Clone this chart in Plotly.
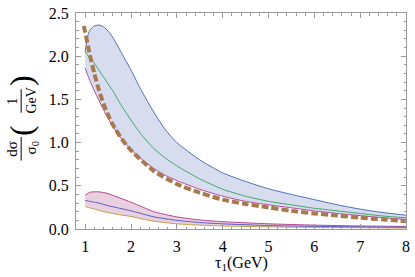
import plotly.graph_objects as go

# ---- data ----
x_band = [1.0, 1.05, 1.1, 1.2, 1.3, 1.4, 1.5, 1.6, 1.7, 1.8, 2.0, 2.2, 2.5, 2.75, 3.0, 3.5,
          4.0, 4.5, 5.0, 5.5, 6.0, 6.5, 7.0, 7.5, 8.0]
band_upper = [2.05, 2.22, 2.30, 2.35, 2.36, 2.34, 2.29, 2.22, 2.13, 2.03, 1.84, 1.63, 1.35,
              1.15, 1.00, 0.80, 0.65, 0.55, 0.465, 0.40, 0.34, 0.28, 0.23, 0.19, 0.16]
band_center = [2.05, 2.01, 1.98, 1.92, 1.84, 1.76, 1.68, 1.60, 1.51, 1.42, 1.26, 1.11, 0.93,
               0.82, 0.73, 0.58, 0.46, 0.38, 0.32, 0.28, 0.24, 0.21, 0.18, 0.15, 0.13]
band_lower = [1.86, 1.79, 1.72, 1.60, 1.49, 1.38, 1.28, 1.19, 1.11, 1.04, 0.92, 0.82, 0.70,
              0.62, 0.56, 0.46, 0.38, 0.32, 0.28, 0.245, 0.21, 0.18, 0.155, 0.13, 0.11]

x_dash = [0.97, 1.0, 1.1, 1.2, 1.3, 1.4, 1.5, 1.6, 1.8, 2.0, 2.5, 3.0, 3.5, 4.0, 4.5,
          5.0, 5.5, 6.0, 6.5, 7.0, 7.5, 8.0]
y_dash = [2.35, 2.28, 2.02, 1.80, 1.61, 1.45, 1.32, 1.21, 1.04, 0.91, 0.67, 0.52, 0.42,
          0.34, 0.29, 0.25, 0.21, 0.18, 0.155, 0.13, 0.11, 0.09]

x_pink = [1.0, 1.1, 1.2, 1.3, 1.5, 1.75, 2.0, 2.25, 2.5, 3.0, 3.5, 4.0, 5.0, 6.0, 7.0, 8.0]
pink_upper = [0.39, 0.425, 0.43, 0.43, 0.41, 0.36, 0.31, 0.255, 0.20, 0.14, 0.105, 0.085,
              0.06, 0.045, 0.035, 0.03]
pink_center = [0.33, 0.32, 0.31, 0.30, 0.27, 0.24, 0.21, 0.175, 0.14, 0.10, 0.075, 0.06,
               0.04, 0.03, 0.025, 0.02]
pink_lower = [0.26, 0.245, 0.23, 0.215, 0.19, 0.165, 0.145, 0.115, 0.09, 0.06, 0.045, 0.035,
              0.025, 0.02, 0.015, 0.012]

x_ticks = [1, 2, 3, 4, 5, 6, 7, 8]
y_ticks = [0.0, 0.5, 1.0, 1.5, 2.0, 2.5]

# ---- figure ----
W, H = 415, 277
L, R, T, B = 76, 5, 8, 48
PW, PH = W - L - R, H - T - B

def px2paper(px, py):
    return (px - L) / PW, (H - B - py) / PH

fig = go.Figure()
spl = dict(shape="spline", smoothing=0.6)

# blue band
fig.add_trace(go.Scatter(x=x_band, y=band_lower, mode="lines",
                         line=dict(color="#b0489e", width=1, **spl), hoverinfo="skip"))
fig.add_trace(go.Scatter(x=x_band, y=band_upper, mode="lines", fill="tonexty",
                         fillcolor="rgba(205,213,235,0.8)",
                         line=dict(color="#4f6fb5", width=1, **spl), hoverinfo="skip"))
fig.add_trace(go.Scatter(x=x_band, y=band_center, mode="lines",
                         line=dict(color="#3da86a", width=1, **spl), hoverinfo="skip"))

# pink band
fig.add_trace(go.Scatter(x=x_pink, y=pink_lower, mode="lines",
                         line=dict(color="#c2a04a", width=1, **spl), hoverinfo="skip"))
fig.add_trace(go.Scatter(x=x_pink, y=pink_upper, mode="lines", fill="tonexty",
                         fillcolor="rgba(228,196,218,0.8)",
                         line=dict(color="#b0488e", width=1, **spl), hoverinfo="skip"))
fig.add_trace(go.Scatter(x=x_pink, y=pink_center, mode="lines",
                         line=dict(color="#5a5cc8", width=1, **spl), hoverinfo="skip"))

# dashed curve
fig.add_trace(go.Scatter(x=x_dash, y=y_dash, mode="lines",
                         line=dict(color="#a8794a", width=4, dash="7px,3px", **spl),
                         hoverinfo="skip"))

serif = "Liberation Serif, Times New Roman, serif"
tickfont = dict(family=serif, size=16, color="black")
axis_common = dict(showgrid=False, zeroline=False, showline=True, linecolor="#9a9a9a",
                   linewidth=1, mirror="ticks", ticks="inside", ticklen=5, tickwidth=1,
                   tickcolor="#9a9a9a", tickfont=tickfont, ticklabeloverflow="allow")

fig.update_xaxes(range=[0.8, 8.0], tickvals=x_ticks, ticktext=[str(v) for v in x_ticks],
                 minor=dict(ticks="inside", dtick=0.2, tick0=0, ticklen=2.5,
                            tickcolor="#9a9a9a"),
                 ticklabelstandoff=3, **axis_common)
fig.update_yaxes(range=[0.0, 2.5], tickvals=y_ticks,
                 ticktext=["%.1f" % v for v in y_ticks],
                 minor=dict(ticks="inside", dtick=0.1, tick0=0, ticklen=2.5,
                            tickcolor="#9a9a9a"),
                 ticklabelstandoff=3, **axis_common)

ann = []
def add_text(txt, px, py, size, angle=-90):
    x, y = px2paper(px, py)
    ann.append(dict(text=txt, x=x, y=y, xref="paper", yref="paper", showarrow=False,
                    xanchor="center", yanchor="middle", textangle=angle,
                    font=dict(family=serif, size=size, color="black")))

# x-axis title
add_text("τ<sub>1</sub>(GeV)", 243, 264, 16, angle=0)
# y-axis title (rotated fraction)
add_text("dσ", 11, 147, 15)
add_text("σ<sub>0</sub>", 31, 146, 15)
add_text("(", 21, 128, 32)
add_text("1", 12, 98, 14)
add_text("GeV", 31, 98, 14)
add_text(")", 21, 77, 32)

shapes = []
for (px, y0, y1) in [(20.5, 135, 159), (20.5, 86, 110)]:
    xa, ya = px2paper(px, y0)
    xb, yb = px2paper(px, y1)
    shapes.append(dict(type="line", xref="paper", yref="paper", x0=xa, x1=xb, y0=ya, y1=yb,
                       line=dict(color="black", width=1)))

fig.update_layout(width=W, height=H, margin=dict(l=L, r=R, t=T, b=B),
                  paper_bgcolor="white", plot_bgcolor="white", showlegend=False,
                  annotations=ann, shapes=shapes)

fig.write_html("out.html", config={"displayModeBar": False, "staticPlot": True},
               post_script="document.body.style.margin='0';document.body.style.overflow='hidden';")
